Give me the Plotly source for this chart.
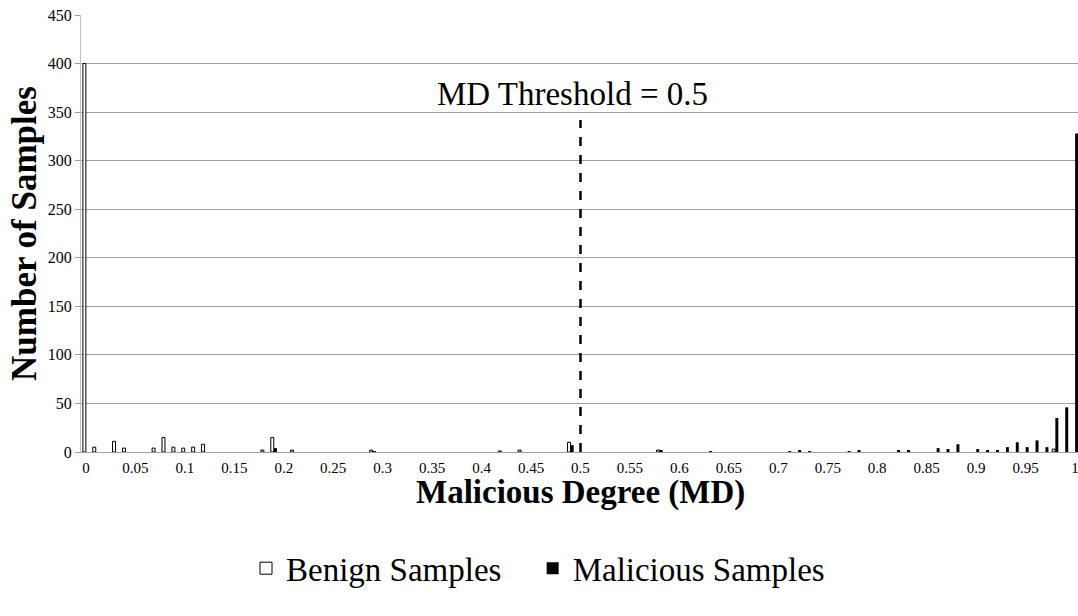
import plotly.graph_objects as go

# Malicious Degree categories with non-zero counts
benign_md = [0.00, 0.01, 0.03, 0.04, 0.07, 0.08, 0.09, 0.10, 0.11, 0.12,
             0.18, 0.19, 0.21, 0.29, 0.42, 0.44, 0.49, 0.58, 0.98]
benign_counts = [400, 5, 11, 4, 4, 15, 5, 4, 5, 8,
                 2, 15, 2, 2, 1, 2, 10, 2, 3]

malicious_md = [0.19, 0.29, 0.49, 0.58, 0.63, 0.71, 0.72, 0.73, 0.77, 0.78,
                0.82, 0.83, 0.86, 0.87, 0.88, 0.90, 0.91, 0.92, 0.93, 0.94,
                0.95, 0.96, 0.97, 0.98, 0.99, 1.00]
malicious_counts = [4, 1, 7, 2, 1, 1, 2, 1, 1, 2,
                    2, 2, 4, 3, 8, 3, 2, 2, 5, 10,
                    5, 12, 5, 35, 46, 328]

tick_vals = [round(i * 0.05, 2) for i in range(21)]
tick_text = ["0", "0.05", "0.1", "0.15", "0.2", "0.25", "0.3", "0.35", "0.4", "0.45",
             "0.5", "0.55", "0.6", "0.65", "0.7", "0.75", "0.8", "0.85", "0.9", "0.95", "1"]

threshold = 0.5
threshold_top = 342

SERIF = "Liberation Serif"

fig = go.Figure()
fig.add_trace(go.Bar(
    x=benign_md, y=benign_counts, name="Benign Samples",
    width=0.003, offset=-0.0031, legend="legend",
    marker=dict(color="white", line=dict(color="black", width=1)),
))
fig.add_trace(go.Bar(
    x=malicious_md, y=malicious_counts, name="Malicious Samples",
    width=0.003, offset=0.0001, legend="legend2",
    marker=dict(color="black", line=dict(color="black", width=0)),
))

fig.add_shape(type="line", x0=threshold, x1=threshold, y0=0, y1=threshold_top,
              xref="x", yref="y", line=dict(color="black", width=2.5, dash="dash"))
fig.add_annotation(x=0.492, y=369, xref="x", yref="y", text="MD Threshold = 0.5",
                   showarrow=False, font=dict(family=SERIF, size=33, color="black"))
fig.add_annotation(x=0.5, xref="x", y=-0.092, yref="paper", yanchor="middle",
                   text="<b>Malicious Degree (MD)</b>", showarrow=False,
                   font=dict(family=SERIF, size=33, color="black"))

legend_font = dict(family=SERIF, size=33, color="black")

fig.update_layout(
    width=1078, height=616,
    margin=dict(l=81, r=0, t=15, b=164, autoexpand=False),
    paper_bgcolor="white", plot_bgcolor="white",
    barmode="overlay",
    showlegend=True,
    legend=dict(orientation="h", x=0.1655, xanchor="left", y=-0.266, yanchor="middle",
                font=legend_font),
    legend2=dict(orientation="h", x=0.453, xanchor="left", y=-0.266, yanchor="middle",
                 font=legend_font),
    xaxis=dict(
        range=[-0.005, 1.003], automargin=False,
        tickmode="array", tickvals=tick_vals, ticktext=tick_text,
        tickfont=dict(family=SERIF, size=15, color="black"),
        showgrid=False, zeroline=False,
        showline=True, linecolor="#a0a0a0", linewidth=1,
        ticks="", ticklabelstandoff=2, ticklabeloverflow="allow",
    ),
    yaxis=dict(
        range=[0, 450], dtick=50, automargin=False,
        tickfont=dict(family=SERIF, size=16, color="black"),
        showgrid=True, gridcolor="#a0a0a0", gridwidth=1,
        zeroline=False, showline=True, linecolor="#c0c0c0", linewidth=1,
        ticks="outside", ticklen=5, tickcolor="#a0a0a0",
        title=dict(text="<b>Number of Samples</b>",
                   font=dict(family=SERIF, size=35, color="black"), standoff=0),
    ),
)

fig.write_html("out.html", config={"displayModeBar": False},
               post_script="document.body.style.margin='0';")
